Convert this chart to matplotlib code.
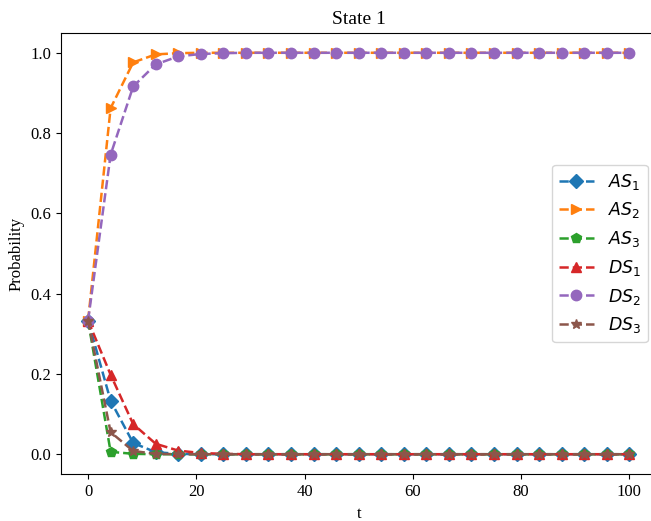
import numpy as np
import matplotlib
matplotlib.use("Agg")
import matplotlib.pyplot as plt

plt.rcParams['font.family'] = ['Liberation Serif', 'DejaVu Serif']
plt.rcParams['mathtext.fontset'] = 'dejavusans'

t = np.linspace(0, 100, 25)
n = len(t)

def pad(vals, fill):
    return list(vals) + [fill] * (n - len(vals))

AS1 = pad([0.333, 0.133, 0.028, 0.005, 0.001], 0.0)
AS2 = pad([0.333, 0.862, 0.976, 0.996, 0.999], 1.0)
AS3 = pad([0.333, 0.006, 0.001], 0.0)
DS1 = pad([0.333, 0.198, 0.075, 0.026, 0.009, 0.003, 0.001], 0.0)
DS2 = pad([0.333, 0.746, 0.916, 0.971, 0.991, 0.997, 0.999], 1.0)
DS3 = pad([0.333, 0.055, 0.008, 0.001], 0.0)

series = [
    (AS1, 'D', r'$AS_1$'),
    (AS2, '>', r'$AS_2$'),
    (AS3, 'p', r'$AS_3$'),
    (DS1, '^', r'$DS_1$'),
    (DS2, 'o', r'$DS_2$'),
    (DS3, '*', r'$DS_3$'),
]

fig = plt.figure(figsize=(6.51, 5.21), dpi=100)
ax = fig.add_axes([61/651, 1 - 474.3/521, (656.4 - 61)/651, (474.3 - 32.7)/521])

for vals, m, lab in series:
    ax.plot(t, vals, linestyle='--', marker=m, label=lab, markersize=7.5, linewidth=1.8)

ax.set_title('State 1', fontsize=14)
ax.set_xlabel('t', fontsize=12)
ax.set_ylabel('Probability', fontsize=12)
ax.tick_params(labelsize=12)
ax.set_xticks([0, 20, 40, 60, 80, 100])
ax.legend(loc='center right', prop={'size': 12.5})

fig.savefig('out.png', dpi=100)
